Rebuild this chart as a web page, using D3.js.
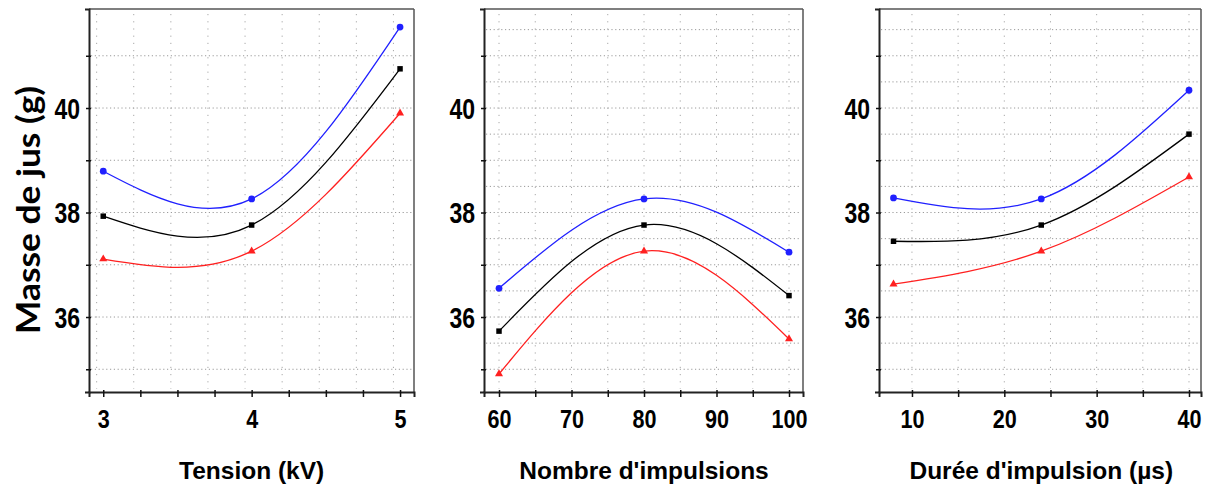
<!DOCTYPE html>
<html>
<head>
<meta charset="utf-8">
<script src="https://cdn.jsdelivr.net/npm/d3@7/dist/d3.min.js"></script>
<style>
  html, body { margin: 0; padding: 0; background: #ffffff; }
  svg { display: block; }
  .tick-label { font-family: "Liberation Sans", Arial, sans-serif; font-weight: bold; fill: #000; }
  .axis-title { font-family: "Liberation Sans", Arial, sans-serif; font-weight: bold; fill: #000; }
  .y-title { font-family: Lato, "Open Sans", sans-serif; font-weight: bold; fill: #000; }
</style>
</head>
<body>
<svg id="chart" width="1209" height="495"></svg>
<script>
// Mass of juice (g) versus three process factors: upper bound (blue),
// fitted value (black) and lower bound (red).
const tension = [3, 4, 5];
const tensionBlue  = [38.79, 38.26, 41.55];
const tensionBlack = [37.93, 37.76, 40.75];
const tensionRed   = [37.11, 37.26, 39.90];

const impulsions = [60, 80, 100];
const impulsionsBlue  = [36.55, 38.26, 37.24];
const impulsionsBlack = [35.73, 37.76, 36.41];
const impulsionsRed   = [34.91, 37.26, 35.58];

const duree = [8, 24, 40];
const dureeBlue  = [38.28, 38.26, 40.34];
const dureeBlack = [37.45, 37.76, 39.50];
const dureeRed   = [36.63, 37.26, 38.68];

const yTickValues = [35, 36, 37, 38, 39, 40, 41];
const yTickLabels = ["", "36", "", "38", "", "40", ""];

const xTitles = ["Tension (kV)", "Nombre d'impulsions", "Durée d'impulsion (µs)"];
const yTitle = "Masse de jus (g)";

const panels = [
  { title: xTitles[0], x: tension, blue: tensionBlue, black: tensionBlack, red: tensionRed,
    domain: [2.904, 5.094], left: 89, right: 414,
    ticks: d3.range(3, 5.001, 0.25), labels: [3, 4, 5], fmt: d3.format("d"),
    hGrid: d3.range(35, 41.01, 1), gridShift: -6.6 },
  { title: xTitles[1], x: impulsions, blue: impulsionsBlue, black: impulsionsBlack, red: impulsionsRed,
    domain: [57.93, 101.93], left: 484, right: 803,
    ticks: d3.range(60, 100.1, 5), labels: [60, 70, 80, 90, 100], fmt: d3.format("d"),
    hGrid: d3.range(35, 41.51, 0.5), gridShift: 0 },
  { title: xTitles[2], x: duree, blue: dureeBlue, black: dureeBlack, red: dureeRed,
    domain: [6.43, 41.3], left: 879, right: 1201,
    ticks: d3.range(10, 40.1, 5), labels: [10, 20, 30, 40], fmt: d3.format("d"),
    hGrid: d3.range(35, 41.51, 0.5), gridShift: 0 }
];

const plotTop = 9, plotBottom = 392;
const y = d3.scaleLinear().domain([34.565, 41.895]).range([plotBottom, plotTop]);

const svg = d3.select("#chart");

// condensed bold digits: fixed advance per character
function condense(sel, perChar) {
  sel.each(function () {
    const t = d3.select(this);
    const n = t.text().length;
    if (n) t.attr("textLength", n * perChar).attr("lengthAdjust", "spacingAndGlyphs");
  });
}

panels.forEach(p => {
  const x = d3.scaleLinear().domain(p.domain).range([p.left, p.right]);
  const g = svg.append("g");

  // dotted grid
  g.append("g").selectAll("line").data(p.hGrid).join("line")
    .attr("x1", p.left + 2).attr("x2", p.right - 2)
    .attr("y1", d => y(d)).attr("y2", d => y(d))
    .attr("stroke", "#9a9a9a").attr("stroke-width", 1)
    .attr("stroke-dasharray", "1.2,2.6");
  g.append("g").selectAll("line").data(p.ticks).join("line")
    .attr("x1", d => x(d) + p.gridShift).attr("x2", d => x(d) + p.gridShift)
    .attr("y1", plotTop + 5).attr("y2", plotBottom - 3)
    .attr("stroke", "#a8a8a8").attr("stroke-width", 1)
    .attr("stroke-dasharray", "1.2,6");

  // frame
  g.append("line").attr("x1", p.left).attr("x2", p.right).attr("y1", plotTop).attr("y2", plotTop)
    .attr("stroke", "#555").attr("stroke-width", 1.5);
  g.append("line").attr("x1", p.right).attr("x2", p.right).attr("y1", plotTop).attr("y2", plotBottom)
    .attr("stroke", "#555").attr("stroke-width", 1.5);

  // y axis
  const yAxis = d3.axisLeft(y).tickValues(yTickValues).tickSize(4).tickPadding(5)
    .tickFormat((d, i) => yTickLabels[i]);
  const ya = g.append("g").attr("transform", `translate(${p.left},0)`).call(yAxis);
  ya.select(".domain").attr("stroke", "#222").attr("stroke-width", 2);
  ya.selectAll(".tick line").attr("stroke", "#111").attr("stroke-width", 1.5).attr("x2", -3).attr("x1", 2);
  ya.selectAll(".tick text").attr("class", "tick-label").style("font-size", "29px").attr("dy", "0.36em")
    .call(condense, 12.8);

  // x axis
  const xAxis = d3.axisBottom(x).tickValues(p.ticks).tickSize(5).tickPadding(18)
    .tickFormat(d => p.labels.includes(d) ? p.fmt(d) : "");
  const xa = g.append("g").attr("transform", `translate(0,${plotBottom})`).call(xAxis);
  xa.select(".domain").attr("stroke", "#222").attr("stroke-width", 2);
  xa.selectAll(".tick line").attr("stroke", "#111").attr("stroke-width", 1.5).attr("y1", -2);
  xa.selectAll(".tick text").attr("class", "tick-label").style("font-size", "26px").attr("dy", "0.5em")
    .call(condense, 12);

  // x title
  svg.append("text").attr("class", "axis-title")
    .attr("x", x((p.x[0] + p.x[2]) / 2)).attr("y", 479)
    .attr("text-anchor", "middle").style("font-size", "24.5px")
    .text(p.title);

  // curves and markers
  const series = [
    { vals: p.blue,  color: "#2020ff", marker: d3.symbolCircle,   size: 36 },
    { vals: p.black, color: "#000000", marker: d3.symbolSquare,   size: 30 },
    { vals: p.red,   color: "#ff2020", marker: d3.symbolTriangle, size: 28 }
  ];
  const line = d3.line().x(d => x(d[0])).y(d => y(d[1])).curve(d3.curveNatural);
  series.forEach(s => {
    const pts = p.x.map((v, i) => [v, s.vals[i]]);
    g.append("path").attr("d", line(pts)).attr("fill", "none")
      .attr("stroke", s.color).attr("stroke-width", 1.3);
    g.append("g").selectAll("path").data(pts).join("path")
      .attr("transform", d => `translate(${x(d[0])},${y(d[1])})`)
      .attr("d", d3.symbol().type(s.marker).size(s.size))
      .attr("fill", s.color);
  });
});

// shared y title
svg.append("text").attr("class", "y-title")
  .attr("transform", `translate(40,210) rotate(-90)`)
  .attr("text-anchor", "middle")
  .attr("textLength", 248).attr("lengthAdjust", "spacingAndGlyphs")
  .style("font-size", "33px")
  .text(yTitle);
</script>
</body>
</html>
